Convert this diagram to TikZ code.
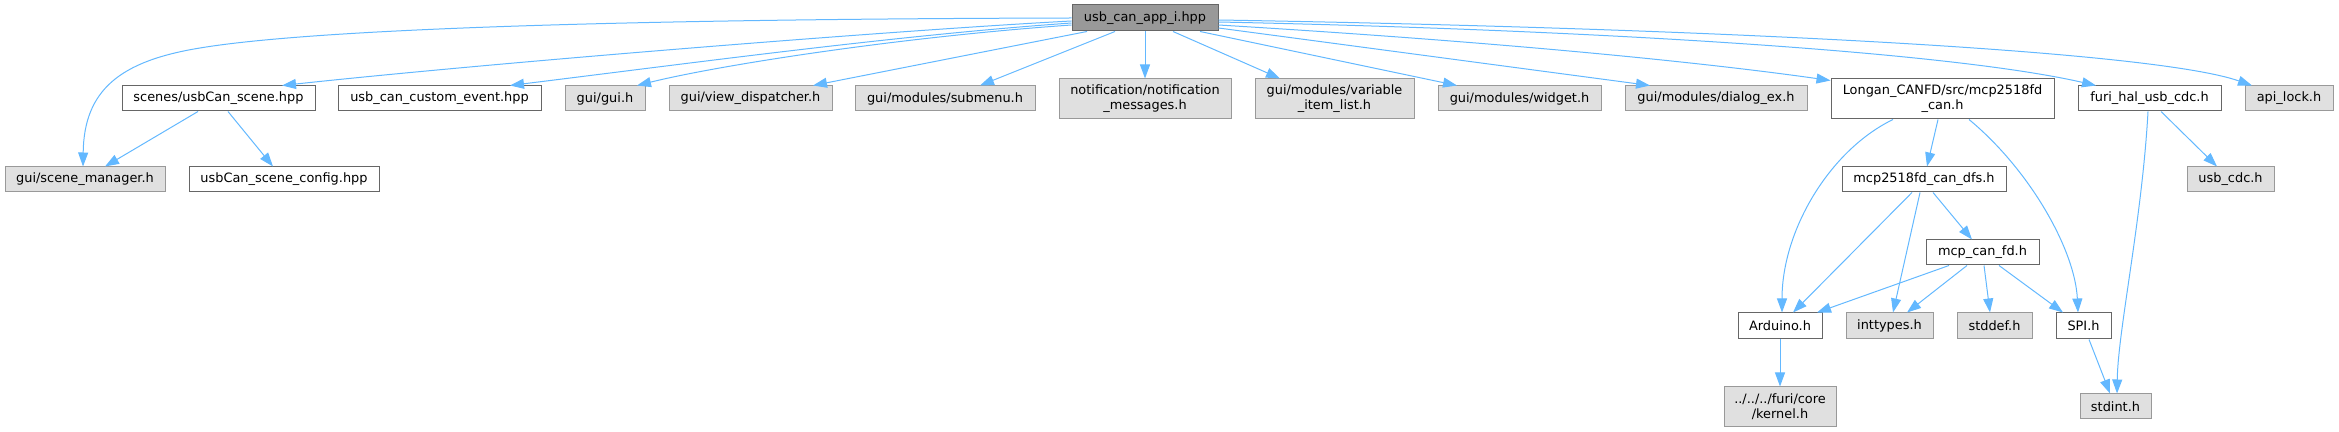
\documentclass[tikz,border=0pt]{standalone}
\usepackage{fontspec}
\setmainfont{DejaVu Sans}
\usetikzlibrary{arrows.meta,calc}
\definecolor{edgeblue}{HTML}{63B8FF}
\definecolor{grayfill}{HTML}{E0E0E0}
\definecolor{grayline}{HTML}{999999}
\definecolor{darkline}{HTML}{666666}
\definecolor{rootfill}{HTML}{999999}
\begin{document}
\begin{tikzpicture}[x=0.5pt,y=-0.5pt,
  every node/.style={font=\fontsize{6.45pt}{7.5pt}\selectfont, inner sep=0pt, align=center, text=black},
  hbox/.style={draw=darkline, line width=0.5pt, fill=white, minimum height=12.5pt},
  gbox/.style={hbox, draw=grayline, fill=grayfill},
  rootbox/.style={hbox, fill=rootfill},
  twoline/.style={minimum height=20pt},
  dep/.style={draw=edgeblue, line width=0.5pt, -{Triangle[length=7pt,width=5pt]}}
]
\useasboundingbox (0,0) rectangle (2339,432);

% nodes
\node[rootbox, minimum width=73pt, minimum height=13pt] (app) at (1145,18) {usb\_can\_app\_i.hpp};
\node[gbox, minimum width=80pt] (scm) at (85,179.5) {gui/scene\_manager.h};
\node[hbox, minimum width=96.5pt] (scene) at (218.5,98.5) {scenes/usbCan\_scene.hpp};
\node[hbox, minimum width=95pt] (cfg) at (284,179.5) {usbCan\_scene\_config.hpp};
\node[hbox, minimum width=101.5pt] (evt) at (439.5,98.5) {usb\_can\_custom\_event.hpp};
\node[gbox, minimum width=40pt] (gui) at (605,98.5) {gui/gui.h};
\node[gbox, minimum width=81.5pt] (vd) at (750.5,98.5) {gui/view\_dispatcher.h};
\node[gbox, minimum width=90pt] (sub) at (945,98.5) {gui/modules/submenu.h};
\node[gbox, twoline, minimum width=86pt] (notif) at (1145,99) {notification/notification\\\_messages.h};
\node[gbox, twoline, minimum width=79.5pt] (vil) at (1334.5,99) {gui/modules/variable\\\_item\_list.h};
\node[gbox, minimum width=81.5pt] (wid) at (1519.5,98.5) {gui/modules/widget.h};
\node[gbox, minimum width=91pt] (dlg) at (1716,98.5) {gui/modules/dialog\_ex.h};
\node[hbox, twoline, minimum width=111.5pt] (lon) at (1942.5,99) {Longan\_CANFD/src/mcp2518fd\\\_can.h};
\node[hbox, minimum width=71.5pt] (fhu) at (2149.5,98.5) {furi\_hal\_usb\_cdc.h};
\node[gbox, minimum width=44pt] (api) at (2289,98.5) {api\_lock.h};
\node[hbox, minimum width=82pt] (dfs) at (1924,179.5) {mcp2518fd\_can\_dfs.h};
\node[gbox, minimum width=43.5pt] (cdc) at (2230.5,179.5) {usb\_cdc.h};
\node[hbox, minimum width=56.5pt] (mcf) at (1982.5,252.5) {mcp\_can\_fd.h};
\node[hbox, minimum width=42pt, minimum height=13pt] (ard) at (1780,326) {Arduino.h};
\node[gbox, minimum width=43.5pt, minimum height=13pt] (intt) at (1889.5,326) {inttypes.h};
\node[gbox, minimum width=37.5pt, minimum height=13pt] (stdd) at (1994.5,326) {stddef.h};
\node[hbox, minimum width=27.5pt, minimum height=13pt] (spi) at (2083.5,326) {SPI.h};
\node[gbox, twoline, minimum width=56pt] (ker) at (1780,407) {../../../furi/core\\/kernel.h};
\node[gbox, minimum width=35.5pt] (sti) at (2115.5,406.5) {stdint.h};

% edges from root
\draw[dep] (app.west) .. controls (650,19) and (320,28) .. (200,48) .. controls (120,61) and (84,90) .. ($(scm.north)+(-2,0)$);
\draw[dep] ($(app.west)+(0,3)$) .. controls (900,30) and (500,62) .. ($(scene.north)+(63.5,0)$);
\draw[dep] ($(app.west)+(0,5)$) .. controls (900,35) and (700,62) .. ($(evt.north)+(70.5,0)$);
\draw[dep] ($(app.west)+(0,7)$) .. controls (900,37) and (720,65) .. ($(gui.north)+(32,0)$);
\draw[dep] ($(app.south)+(-58,0)$) -- ($(vd.north)+(62.5,0)$);
\draw[dep] ($(app.south)+(-30,0)$) -- ($(sub.north)+(35,0)$);
\draw[dep] (app.south) -- (notif.north);
\draw[dep] ($(app.south)+(28,0)$) -- ($(vil.north)+(-54.5,0)$);
\draw[dep] ($(app.south)+(55,0)$) -- ($(wid.north)+(-62.5,0)$);
\draw[dep] ($(app.east)+(0,10)$) -- ($(dlg.north)+(-66,0)$);
\draw[dep] ($(app.east)+(0,7)$) .. controls (1500,42) and (1700,62) .. ($(lon.north west)+(0,2)$);
\draw[dep] ($(app.east)+(0,4)$) .. controls (1600,30) and (1950,52) .. ($(fhu.north)+(-53.5,0)$);
\draw[dep] ($(app.east)+(0,2)$) .. controls (1700,28) and (2150,50) .. ($(api.north)+(-37,0)$);

% lower edges
\draw[dep] ($(scene.south)+(-20.5,0)$) -- ($(scm.north)+(20,0)$);
\draw[dep] ($(scene.south)+(9.5,0)$) -- ($(cfg.north)+(-11,0)$);
\draw[dep] ($(lon.south)+(-4.5,0)$) -- ($(dfs.north)+(3,0)$);
\draw[dep] ($(lon.south)+(-49.5,0)$) .. controls (1830,150) and (1782,230) .. ($(ard.north)+(2,0)$);
\draw[dep] ($(lon.south)+(26.5,0)$) .. controls (2030,170) and (2075,250) .. ($(spi.north)+(-5.5,0)$);
\draw[dep] ($(fhu.south)+(11.5,0)$) -- ($(cdc.north)+(-13.5,0)$);
\draw[dep] ($(fhu.south)+(-1.5,0)$) .. controls (2142,220) and (2118,330) .. ($(sti.north)+(1.5,0)$);
\draw[dep] ($(dfs.south)+(-12,0)$) -- ($(ard.north)+(13,0)$);
\draw[dep] ($(dfs.south)+(-4,0)$) -- ($(intt.north)+(3.5,0)$);
\draw[dep] ($(dfs.south)+(9,0)$) -- ($(mcf.north)+(-10.5,0)$);
\draw[dep] ($(mcf.south)+(-33.5,0)$) -- ($(ard.north)+(37,0)$);
\draw[dep] ($(mcf.south)+(-15.5,0)$) -- ($(intt.north)+(17.5,0)$);
\draw[dep] ($(mcf.south)+(1.5,0)$) -- ($(stdd.north)+(-4.5,0)$);
\draw[dep] ($(mcf.south)+(16.5,0)$) -- ($(spi.north)+(-20.5,0)$);
\draw[dep] (ard.south) -- (ker.north);
\draw[dep] ($(spi.south)+(5.5,0)$) -- ($(sti.north)+(-5.5,0)$);
\end{tikzpicture}
\end{document}
